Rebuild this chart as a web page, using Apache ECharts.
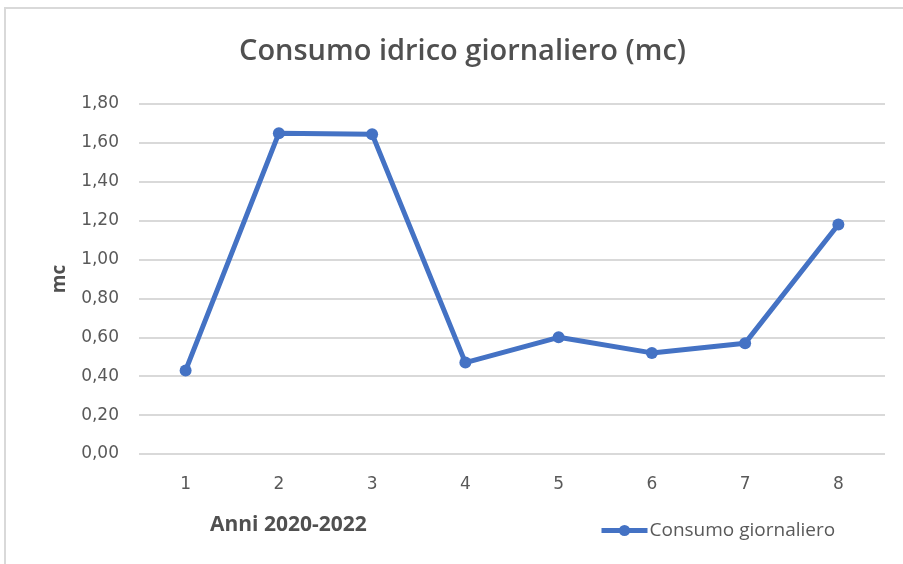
<!DOCTYPE html>
<html>
<head>
<meta charset="utf-8">
<script src="https://cdn.jsdelivr.net/npm/echarts@6/dist/echarts.min.js"></script>
<style>
  html, body { margin: 0; padding: 0; background: #fff; }
  #chart { width: 903px; height: 564px; }
</style>
</head>
<body>
<div id="chart"></div>
<script>
// dati
const categories = ['1', '2', '3', '4', '5', '6', '7', '8']
const consumo = [0.43, 1.65, 1.645, 0.47, 0.60, 0.52, 0.57, 1.18]
const seriesName = 'Consumo giornaliero'

const textColor = '#595959'
const lineColor = '#4472C4'

const chart = echarts.init(document.getElementById('chart'), null, { renderer: 'canvas' })

chart.setOption({
  animation: false,
  backgroundColor: '#fff',
  graphic: [{
    type: 'rect',
    shape: { x: 5, y: 8, width: 920, height: 600 },
    style: { fill: 'none', stroke: '#d9d9d9', lineWidth: 2 },
    silent: true
  }],
  title: {
    text: 'Consumo idrico giornaliero (mc)',
    left: 234,
    top: 32,
    textStyle: { color: '#505050', fontFamily: 'Open Sans', fontSize: 29, fontWeight: 600 }
  },
  legend: {
    data: [seriesName],
    left: 594,
    top: 516,
    itemWidth: 46,
    itemHeight: 14,
    itemGap: 4,
    lineStyle: { width: 5 },
    textStyle: { color: textColor, fontFamily: 'Open Sans', fontSize: 19, padding: [0, 0, 0, -3] }
  },
  grid: { left: 139, right: 18, top: 104, bottom: 110, containLabel: false },
  xAxis: {
    type: 'category',
    data: categories,
    boundaryGap: true,
    name: 'Anni 2020-2022',
    nameLocation: 'start',
    nameGap: 0,
    nameTextStyle: {
      color: '#505050', fontFamily: 'Open Sans', fontSize: 21, fontWeight: 'bold',
      align: 'left', verticalAlign: 'top', padding: [61, 0, 0, 71]
    },
    axisLine: { show: false },
    axisTick: { show: false },
    axisLabel: { color: textColor, fontFamily: 'DejaVu Sans', fontSize: 17, margin: 22 }
  },
  yAxis: {
    type: 'value',
    min: 0,
    max: 1.8,
    interval: 0.2,
    name: 'mc',
    nameLocation: 'middle',
    nameGap: 70,
    nameRotate: 90,
    nameTextStyle: { color: '#505050', fontFamily: 'Open Sans', fontSize: 19, fontWeight: 'bold' },
    axisLabel: {
      color: textColor, fontFamily: 'DejaVu Sans', fontSize: 17, margin: 20,
      formatter: v => v.toFixed(2).replace('.', ',')
    },
    splitLine: { lineStyle: { color: '#d9d9d9', width: 2 } }
  },
  series: [{
    name: seriesName,
    type: 'line',
    data: consumo,
    symbol: 'circle',
    symbolSize: 12,
    itemStyle: { color: lineColor },
    lineStyle: { color: lineColor, width: 5 }
  }]
})
</script>
</body>
</html>
